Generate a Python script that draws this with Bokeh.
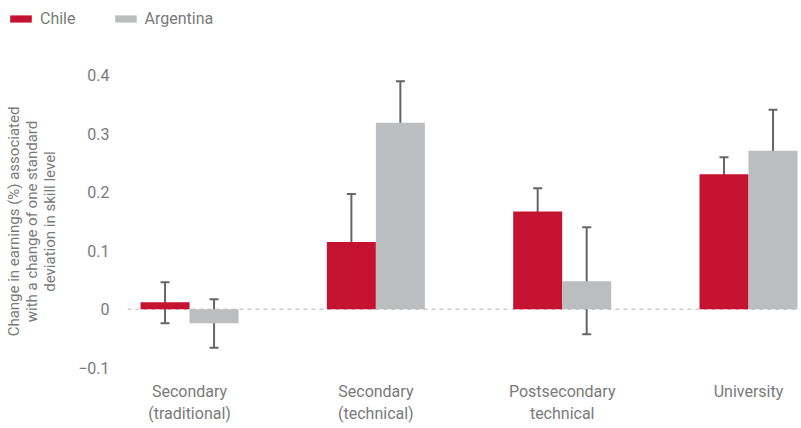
from bokeh.plotting import figure
from bokeh.models import (ColumnDataSource, Whisker, TeeHead, Span, Legend, LegendItem,
                          FixedTicker, Range1d)
from bokeh.embed import file_html
from bokeh.resources import INLINE

categories = ["Secondary\n(traditional)", "Secondary\n(technical)", "Postsecondary\ntechnical", "University"]
chile = [0.012, 0.115, 0.167, 0.231]
chile_lo = [-0.024, 0.034, 0.126, 0.200]
chile_hi = [0.046, 0.197, 0.207, 0.260]
argentina = [-0.024, 0.319, 0.048, 0.271]
arg_lo = [-0.066, 0.248, -0.043, 0.198]
arg_hi = [0.017, 0.390, 0.140, 0.341]
y_ticks = [-0.1, 0, 0.1, 0.2, 0.3, 0.4]
y_tick_labels = ["\u22120.1", "0", "0.1", "0.2", "0.3", "0.4"]
series_names = ["Chile", "Argentina"]

FONT = "Roboto"
TXT = "#7a7a7a"
RED = "#C41230"
GREY = "#BCBDBF"
BW = 0.263

xs = list(range(len(categories)))
src_c = ColumnDataSource(dict(x=[x - BW / 2 for x in xs], top=chile, lo=chile_lo, hi=chile_hi))
src_a = ColumnDataSource(dict(x=[x + BW / 2 for x in xs], top=argentina, lo=arg_lo, hi=arg_hi))

# ---- legend strip (separate root, so its frame starts at the left edge) ----
lg = figure(width=785, height=36, output_backend="svg", toolbar_location=None,
            x_range=Range1d(0, 1), y_range=Range1d(0, 1),
            min_border_left=0, min_border_right=0, min_border_top=0, min_border_bottom=0)
lg.axis.visible = False
lg.grid.grid_line_color = None
lg.outline_line_color = None
offscreen = ColumnDataSource(dict(x=[-5.0], top=[-5.0]))
lr_c = lg.vbar(x="x", top="top", width=0.1, source=offscreen, fill_color=RED, line_color=None)
lr_a = lg.vbar(x="x", top="top", width=0.1, source=offscreen, fill_color=GREY, line_color=None)
legend = Legend(items=[LegendItem(label=series_names[0], renderers=[lr_c]),
                       LegendItem(label=series_names[1], renderers=[lr_a])],
                orientation="horizontal", location=(7, 8),
                glyph_width=27, glyph_height=9, label_standoff=6, spacing=36,
                padding=0, margin=0, border_line_color=None, background_fill_alpha=0,
                label_height=20, label_text_font=FONT, label_text_font_size="16px",
                label_text_color=TXT)
lg.add_layout(legend)

# ---- main chart ----
p = figure(width=800, height=392, output_backend="svg", toolbar_location=None,
           x_range=Range1d(-0.333, 3.279), y_range=Range1d(-0.11, 0.41),
           min_border_left=127, min_border_right=0, min_border_top=33, min_border_bottom=55)

zero = Span(location=0, dimension="width", line_color="#b5b5b5", line_dash="4 4", line_width=1,
            level="underlay")
p.add_layout(zero)

p.vbar(x="x", top="top", bottom=0, width=BW, source=src_c, fill_color=RED, line_color=None)
p.vbar(x="x", top="top", bottom=0, width=BW, source=src_a, fill_color=GREY, line_color=None)

for src in (src_c, src_a):
    w = Whisker(source=src, base="x", upper="hi", lower="lo", line_color="#666666", line_width=2,
                upper_head=TeeHead(size=9, line_color="#666666", line_width=2),
                lower_head=TeeHead(size=9, line_color="#666666", line_width=2))
    p.add_layout(w)

p.xgrid.grid_line_color = None
p.ygrid.grid_line_color = None
p.outline_line_color = None

p.xaxis.ticker = FixedTicker(ticks=xs)
p.xaxis.major_label_overrides = {x: c for x, c in zip(xs, categories)}
p.yaxis.ticker = FixedTicker(ticks=y_ticks)
p.yaxis.major_label_overrides = {t: l for t, l in zip(y_ticks, y_tick_labels)}
for ax in (p.xaxis, p.yaxis):
    ax.axis_line_color = None
    ax.major_tick_line_color = None
    ax.minor_tick_line_color = None
    ax.major_label_text_font = FONT
    ax.major_label_text_font_size = "16px"
    ax.major_label_text_color = TXT
p.xaxis.major_label_standoff = 2
p.yaxis.major_label_standoff = 12

p.yaxis.axis_label = "Change in earnings (%) associated\nwith a change of one standard\ndeviation in skill level"
p.yaxis.axis_label_text_font = FONT
p.yaxis.axis_label_text_font_size = "15px"
p.yaxis.axis_label_text_font_style = "normal"
p.yaxis.axis_label_text_color = TXT
p.yaxis.axis_label_text_line_height = 1.0
p.yaxis.axis_label_standoff = 16

open("out.html", "w").write(file_html([lg, p], INLINE))
